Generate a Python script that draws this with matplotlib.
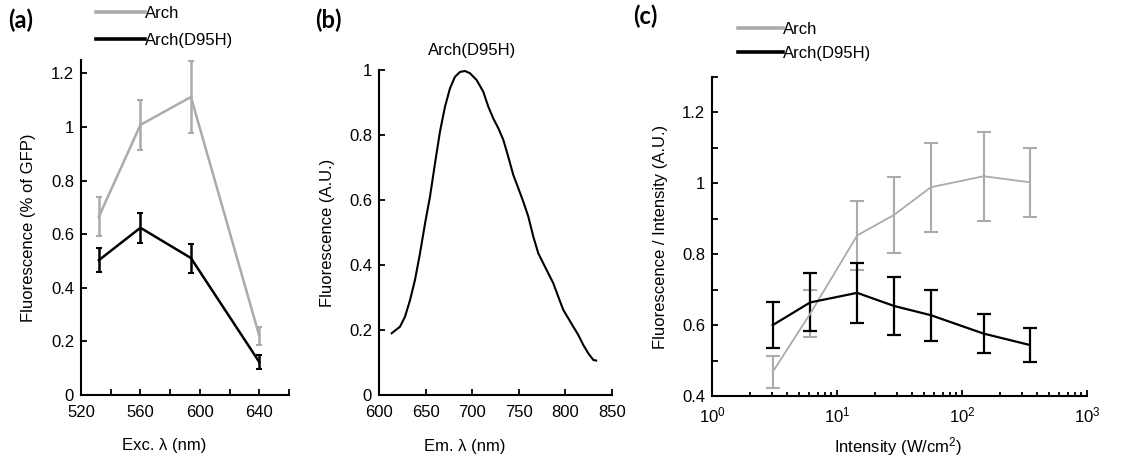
import matplotlib
matplotlib.use('Agg')
import matplotlib.pyplot as plt
from matplotlib.lines import Line2D
from matplotlib.ticker import MultipleLocator, LogLocator, NullFormatter, FuncFormatter

plt.rcParams['font.family'] = ['Liberation Sans', 'DejaVu Sans']
plt.rcParams['mathtext.fontset'] = 'custom'
plt.rcParams['mathtext.rm'] = 'Liberation Sans'
plt.rcParams['mathtext.it'] = 'Liberation Sans:italic'
plt.rcParams['mathtext.bf'] = 'Liberation Sans:bold'

GRAY = '#ababab'
BLACK = '#000000'
FS = 12

# ---------------- data: panel (a) ----------------
exc_wl = [532, 560, 594, 640]
arch_a = [0.665, 1.008, 1.112, 0.221]
arch_a_err = [0.073, 0.094, 0.135, 0.034]
d95h_a = [0.503, 0.624, 0.511, 0.123]
d95h_a_err = [0.045, 0.056, 0.054, 0.027]

# ---------------- data: panel (b) ----------------
em_wl = [613.6, 622.5, 627.9, 633.3, 638.6, 644.0, 649.4, 654.7, 660.1, 665.4,
         670.8, 676.2, 681.5, 686.9, 692.3, 697.6, 704.8, 711.9, 717.3, 722.6,
         728.0, 733.4, 738.7, 744.1, 749.5, 754.8, 760.2, 765.6, 770.9, 776.3,
         781.7, 787.0, 792.4, 797.7, 803.1, 808.5, 813.8, 819.2, 824.6, 829.9,
         833.0]
em_fl = [0.190, 0.210, 0.241, 0.292, 0.354, 0.436, 0.528, 0.610, 0.713, 0.810,
         0.887, 0.944, 0.979, 0.994, 0.997, 0.990, 0.969, 0.933, 0.887, 0.851,
         0.821, 0.785, 0.733, 0.677, 0.636, 0.595, 0.549, 0.487, 0.436, 0.405,
         0.374, 0.344, 0.302, 0.262, 0.236, 0.210, 0.185, 0.154, 0.128, 0.108,
         0.106]

# ---------------- data: panel (c) ----------------
intensity = [3.06, 6.1, 14.5, 28.6, 56.3, 149, 348]
arch_c = [0.468, 0.632, 0.853, 0.911, 0.989, 1.020, 1.003]
arch_c_err = [0.045, 0.066, 0.098, 0.107, 0.125, 0.126, 0.098]
d95h_c = [0.600, 0.664, 0.691, 0.654, 0.628, 0.576, 0.544]
d95h_c_err = [0.065, 0.082, 0.084, 0.081, 0.072, 0.055, 0.047]

series_labels = ['Arch', 'Arch(D95H)']

W, H = 1138, 461
fig = plt.figure(figsize=(W / 100, H / 100), dpi=100)


def px_axes(left, top, right, bottom, **kw):
    return fig.add_axes([left / W, 1 - bottom / H, (right - left) / W, (bottom - top) / H], **kw)


def style(ax):
    for s in ('top', 'right'):
        ax.spines[s].set_visible(False)
    for s in ('left', 'bottom'):
        ax.spines[s].set_linewidth(1.5)
    ax.tick_params(which='both', direction='in', width=1.3, labelsize=FS, top=False, right=False)
    ax.tick_params(which='major', length=4)
    ax.tick_params(which='minor', length=4)
    ax.tick_params(axis='x', pad=7)
    ax.tick_params(axis='y', pad=5)


fmt_g = FuncFormatter(lambda v, p: '%g' % round(v, 6))

# ---------------- panel (a) ----------------
ax = px_axes(81, 60, 289, 395)
style(ax)
ax.errorbar(exc_wl, arch_a, yerr=arch_a_err, color=GRAY, lw=1.8, elinewidth=1.8, capsize=2.5, capthick=1.5)
ax.errorbar(exc_wl, d95h_a, yerr=d95h_a_err, color=BLACK, lw=1.8, elinewidth=1.8, capsize=2.5, capthick=1.5)
ax.set_xlim(520, 660)
ax.set_ylim(0, 1.25)
ax.xaxis.set_major_locator(MultipleLocator(40))
ax.xaxis.set_minor_locator(MultipleLocator(20))
ax.set_xticks([520, 560, 600, 640])
ax.yaxis.set_major_locator(MultipleLocator(0.2))
ax.yaxis.set_major_formatter(fmt_g)
ax.set_xlabel('Exc. λ (nm)', fontsize=FS)
ax.set_ylabel('Fluorescence (% of GFP)', fontsize=FS)
ax.xaxis.set_label_coords(0.40, -0.128)
ax.yaxis.set_label_coords(-0.214, 0.5)
handles = [Line2D([], [], color=GRAY, lw=2.6), Line2D([], [], color=BLACK, lw=2.6)]
ax.legend(handles, series_labels, loc='center left', bbox_to_anchor=(96 / W, 1 - 26.5 / H),
          bbox_transform=fig.transFigure, frameon=False, fontsize=FS, handlelength=2.95,
          handletextpad=0.0, labelspacing=0.72, borderpad=0, borderaxespad=0)

# ---------------- panel (b) ----------------
ax = px_axes(379, 70, 612, 395)
style(ax)
ax.plot(em_wl, em_fl, color=BLACK, lw=1.5)
ax.set_xlim(600, 850)
ax.set_ylim(0, 1)
ax.xaxis.set_major_locator(MultipleLocator(50))
ax.yaxis.set_major_locator(MultipleLocator(0.2))
ax.yaxis.set_major_formatter(fmt_g)
ax.set_xlabel('Em. λ (nm)', fontsize=FS)
ax.set_ylabel('Fluorescence (A.U.)', fontsize=FS)
ax.xaxis.set_label_coords(0.37, -0.135)
ax.yaxis.set_label_coords(-0.189, 0.5)
ax.set_title('Arch(D95H)', fontsize=FS, x=0.40, y=1.0, pad=11)

# ---------------- panel (c) ----------------
ax = px_axes(712, 77, 1087, 396)
style(ax)
ax.errorbar(intensity, arch_c, yerr=arch_c_err, color=GRAY, lw=1.3, elinewidth=1.5, capsize=5, capthick=1.5)
ax.errorbar(intensity, d95h_c, yerr=d95h_c_err, color=BLACK, lw=1.6, elinewidth=1.6, capsize=5, capthick=1.6)
ax.set_xscale('log')
ax.set_xlim(1, 1000)
ax.set_ylim(0.4, 1.3)
ax.xaxis.set_major_locator(LogLocator(base=10, numticks=10))
ax.xaxis.set_minor_locator(LogLocator(base=10, subs=range(2, 10), numticks=20))
ax.xaxis.set_minor_formatter(NullFormatter())
ax.tick_params(axis='x', which='minor', length=3)
ax.yaxis.set_major_locator(MultipleLocator(0.2))
ax.yaxis.set_minor_locator(MultipleLocator(0.1))
ax.yaxis.set_major_formatter(fmt_g)
ax.set_xlabel('Intensity (W/cm$^2$)', fontsize=FS)
ax.set_ylabel('Fluorescence / Intensity (A.U.)', fontsize=FS)
ax.xaxis.set_label_coords(0.496, -0.122)
ax.yaxis.set_label_coords(-0.117, 0.5)
handles = [Line2D([], [], color=GRAY, lw=2.6), Line2D([], [], color=BLACK, lw=2.6)]
ax.legend(handles, series_labels, loc='center left', bbox_to_anchor=(738 / W, 1 - 41.5 / H),
          bbox_transform=fig.transFigure, frameon=False, fontsize=FS, handlelength=2.7,
          handletextpad=0.0, labelspacing=0.55, borderpad=0, borderaxespad=0)

# ---------------- panel labels ----------------
for lbl, xp, yp in [('(a)', 8, 20), ('(b)', 315, 20), ('(c)', 633, 16)]:
    fig.text(xp / W, 1 - yp / H, lbl, fontsize=17, fontweight='bold', family=['Lato', 'DejaVu Sans'],
             ha='left', va='center')

fig.savefig('out.png', dpi=100)
